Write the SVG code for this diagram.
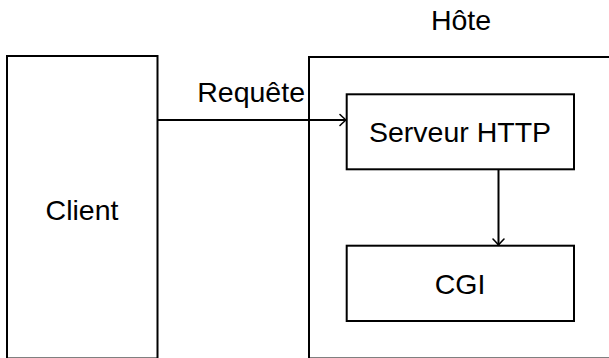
<svg xmlns="http://www.w3.org/2000/svg" width="609" height="358" viewBox="0 0 609 358">
  <style>
    .box { fill: none; stroke: #000; stroke-width: 2; }
    .lbl { font-family: "Liberation Sans", Arial, sans-serif; font-size: 28.5px; fill: #000; }
    .edge { fill: none; stroke: #000; stroke-width: 2; }
  </style>
  <defs>
    <marker id="to" markerUnits="userSpaceOnUse" markerWidth="16" markerHeight="16" viewBox="-8 -8 16 16" refX="0" refY="0" orient="auto" overflow="visible">
      <path d="M -6 -5.5 Q -1.5 -1.2 0 0 Q -1.5 1.2 -6 5.5" fill="none" stroke="#000" stroke-width="1.6" stroke-linecap="round"/>
    </marker>
  </defs>
  <rect width="609" height="358" fill="#fff"/>

  <g id="client">
    <rect class="box" x="7" y="56" width="150.5" height="302.5"/>
    <text class="lbl" x="82" y="220" text-anchor="middle">Client</text>
  </g>

  <g id="hote">
    <rect class="box" x="309" y="57" width="320" height="301.5"/>
    <text class="lbl" x="461" y="29.5" text-anchor="middle">Hôte</text>
  </g>

  <g id="serveur">
    <rect class="box" x="346.7" y="94.3" width="227.3" height="75"/>
    <text class="lbl" x="460" y="142.3" text-anchor="middle">Serveur HTTP</text>
  </g>

  <g id="cgi">
    <rect class="box" x="346.7" y="245.7" width="227.3" height="75.3"/>
    <text class="lbl" x="460" y="293.5" text-anchor="middle">CGI</text>
  </g>

  <g id="connectors">
    <line class="edge" x1="157.5" y1="120" x2="346" y2="120" marker-end="url(#to)"/>
    <text class="lbl" x="305" y="101.7" text-anchor="end">Requête</text>
    <line class="edge" x1="498.5" y1="169.3" x2="498.5" y2="245" marker-end="url(#to)"/>
  </g>
</svg>
